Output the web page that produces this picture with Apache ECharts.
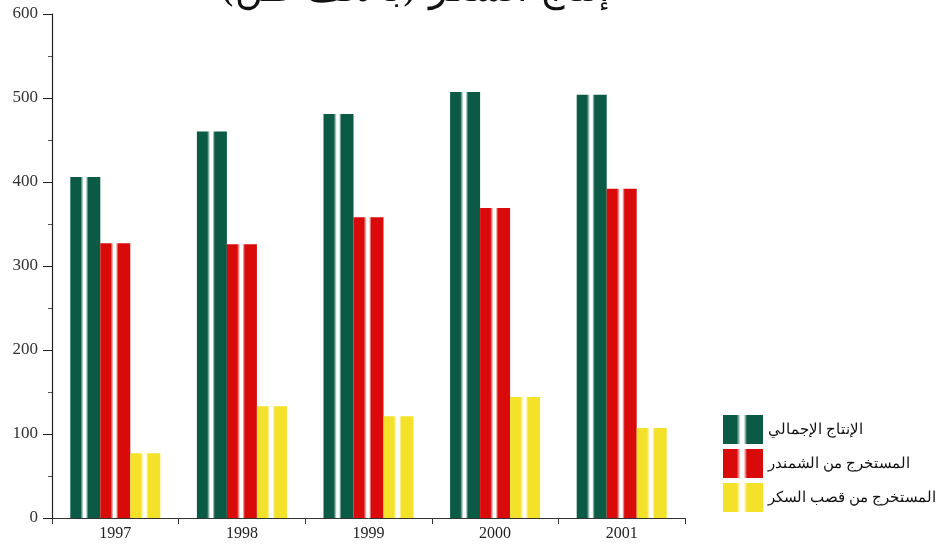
<!DOCTYPE html>
<html><head><meta charset="utf-8">
<script src="https://cdn.jsdelivr.net/npm/echarts@6/dist/echarts.min.js"></script>
<style>html,body{margin:0;padding:0;background:#fff}#c{width:936px;height:546px}</style>
</head><body><div id="c"></div>
<script>
const years = ['1997','1998','1999','2000','2001'];
const seriesNames = ['الإنتاج الإجمالي','المستخرج من الشمندر','المستخرج من قصب السكر'];
const totalProduction = [406, 460, 481, 507, 504];
const fromBeet = [327, 326, 358, 369, 392];
const fromCane = [77, 133, 121, 144, 107];
const yTicks = [0, 100, 200, 300, 400, 500, 600];
const colors = ['#0a5a46', '#d80a0a', '#f4e22a'];
const titleText = 'إنتاج السكر (بالألف طن)';

function grad(c){
  return {type:'linear',x:0,y:0,x2:1,y2:0,colorStops:[
    {offset:0,color:c},{offset:0.34,color:c},{offset:0.44,color:'#ffffff'},
    {offset:0.52,color:'#ffffff'},{offset:0.6,color:c},{offset:1,color:c}]};
}
const chart = echarts.init(document.getElementById('c'));
const data = [totalProduction, fromBeet, fromCane];
chart.setOption({
  backgroundColor:'#ffffff',
  animation:false,
  title:{text:titleText,left:215,top:-33,textStyle:{fontFamily:'DejaVu Serif',fontSize:38,fontWeight:'normal',color:'#111'}},
  legend:{orient:'vertical',left:718,top:410,itemWidth:40,itemHeight:29,itemGap:5,icon:'rect',
    textStyle:{fontFamily:'Noto Sans',fontSize:15,color:'#111'},
    data:seriesNames},
  grid:{left:52,right:251,top:14,bottom:28},
  xAxis:{type:'category',data:years,
    axisLine:{lineStyle:{color:'#333',width:1}},
    axisTick:{show:true,length:6,lineStyle:{color:'#333'}},
    axisLabel:{fontFamily:'Liberation Serif',fontSize:16,color:'#222',margin:8}},
  yAxis:{type:'value',min:yTicks[0],max:yTicks[yTicks.length-1],interval:100,
    axisLine:{show:true,lineStyle:{color:'#222',width:1.2}},
    axisTick:{show:true,length:9,lineStyle:{color:'#222'}},
    minorTick:{show:true,splitNumber:2,length:4,lineStyle:{color:'#555'}},
    splitLine:{show:false},
    axisLabel:{fontFamily:'Liberation Serif',fontSize:17,color:'#333',margin:14}},
  series: seriesNames.map((n,i)=>({
    name:n,type:'bar',data:data[i],barWidth:30,barGap:'0%',
    itemStyle:{color:grad(colors[i])}
  }))
});
</script></body></html>
